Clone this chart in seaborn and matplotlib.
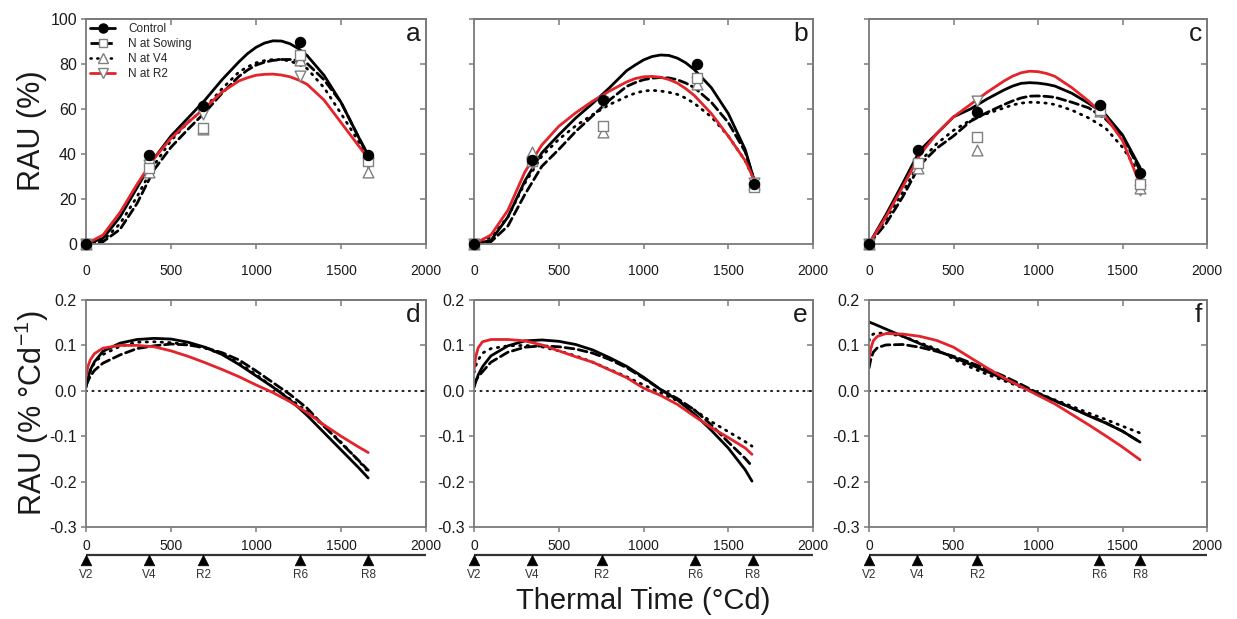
import matplotlib
matplotlib.use("Agg")
import matplotlib.pyplot as plt
from matplotlib.lines import Line2D
import pandas as pd
import seaborn as sns

# ---------------- data ----------------
treatments = ["Control", "N at Sowing", "N at V4", "N at R2"]
stage_labels = ["V2", "V4", "R2", "R6", "R8"]

# top row: fitted RAU (%) curves
a_fit_x = [0, 100, 200, 300, 400, 500, 600, 700, 800, 900, 950, 1000, 1050, 1100, 1150, 1200, 1250, 1300, 1400, 1500, 1600, 1660]
a_fit_control = [0, 2.5, 12, 25, 38, 48, 56, 64, 73, 81, 84.6, 87.4, 89.3, 90.3, 90.2, 89, 86.8, 83.8, 75, 63, 48, 39.5]
a_fit_sowing = [0, 1, 6.5, 18, 33, 43, 51, 58.5, 67, 74.5, 77.3, 79.5, 80.8, 81.6, 82, 82, 81.5, 80.3, 73, 63, 48, 39]
a_fit_v4 = [0, 1.5, 9, 21, 35, 46, 54, 60.5, 69, 76.5, 78.7, 80.5, 81.5, 82, 82, 81.3, 79.9, 78, 69.5, 58, 46, 38]
a_fit_r2 = [0, 4, 14, 26.5, 38, 47, 54, 60.5, 67.5, 72.5, 73.9, 75, 75.4, 75.5, 75.1, 74.3, 72.9, 71, 64, 54, 44, 38]

b_fit_x = [0, 100, 200, 300, 400, 500, 600, 700, 800, 900, 950, 1000, 1050, 1100, 1150, 1200, 1250, 1300, 1400, 1500, 1600, 1650]
b_fit_control = [0, 1.6, 12, 28, 40.5, 48.5, 56, 62.5, 69.5, 77, 79.5, 81.8, 83.3, 84, 83.8, 82.6, 80.5, 77.5, 69.5, 58, 42, 29]
b_fit_sowing = [0, 1, 8, 22, 34.5, 42, 50, 57, 64, 70, 71.7, 73, 73.7, 74, 73.8, 73, 71.5, 69.5, 63, 54, 41, 29]
b_fit_v4 = [0, 3, 12, 27, 39, 46.5, 52.5, 57.5, 62, 65.5, 67, 68, 68.3, 68, 67.4, 66.5, 64.8, 62.5, 56.5, 48, 37, 29]
b_fit_r2 = [0, 4, 15, 32, 44, 52.3, 58.3, 63.5, 68, 72, 73.5, 74.3, 74.5, 74.1, 73.1, 71.5, 69, 66, 58, 48, 37, 29]

c_fit_x = [0, 100, 200, 300, 400, 500, 600, 700, 800, 850, 900, 950, 1000, 1050, 1100, 1200, 1300, 1400, 1500, 1604]
c_fit_control = [0, 13, 27, 41.5, 49, 56.5, 60, 64.5, 68.5, 70.2, 71.4, 71.7, 71.5, 71, 70.2, 67, 62.5, 57.5, 48.5, 34]
c_fit_sowing = [0, 9, 21, 35, 42.5, 48, 54.5, 58.5, 62, 63.6, 64.9, 65.7, 65.8, 65.6, 65.2, 63, 60.5, 55.5, 48, 32.6]
c_fit_v4 = [0, 11, 23, 36.5, 44.5, 50.5, 55, 58, 60.5, 61.8, 62.6, 63, 62.9, 62.6, 62, 59.5, 56, 51.5, 43, 31]
c_fit_r2 = [0, 12, 25.5, 39.5, 49, 56.5, 62, 67.5, 72.5, 74.6, 76.1, 76.8, 76.6, 75.8, 74.5, 69.5, 63.5, 56.5, 46, 26.5]

# top row: observed RAU (%)
a_pt_x = [0, 372, 690, 1260, 1660]
a_pt_control = [0, 39.5, 61.5, 90, 39.5]
a_pt_sowing = [0, 34, 51.5, 84, 37]
a_pt_v4 = [0, 32, 51, 82, 32]
a_pt_r2 = [0, 35, 58, 74.5, 36]

b_pt_x = [0, 342, 761, 1318, 1650]
b_pt_control = [0, 37.5, 64, 80, 26.5]
b_pt_sowing = [0, 37, 52.5, 74, 25.5]
b_pt_v4 = [0, 41, 50, 71, 26.5]
b_pt_r2 = [0, 36, 63, 72, 27]

c_pt_x = [0, 288, 639, 1369, 1604]
c_pt_control = [0, 42, 58.6, 61.6, 31.5]
c_pt_sowing = [0, 36, 47.5, 59.5, 26.5]
c_pt_v4 = [0, 34, 42, 59, 25]
c_pt_r2 = [0, 35, 63.5, 60, 24]

# bottom row: rate of RAU (% °Cd-1)
d_x = [0, 10, 25, 50, 100, 200, 300, 400, 500, 600, 700, 800, 900, 1000, 1100, 1200, 1300, 1400, 1500, 1600, 1660]
d_control = [0.007, 0.025, 0.046, 0.064, 0.087, 0.105, 0.113, 0.1155, 0.114, 0.107, 0.096, 0.08, 0.058, 0.033, 0.008, -0.02, -0.054, -0.092, -0.13, -0.168, -0.192]
d_sowing = [0.012, 0.02, 0.032, 0.045, 0.061, 0.079, 0.093, 0.099, 0.103, 0.101, 0.095, 0.084, 0.068, 0.044, 0.018, -0.008, -0.038, -0.078, -0.115, -0.152, -0.175]
d_v4 = [0.01, 0.027, 0.043, 0.062, 0.08, 0.098, 0.107, 0.108, 0.106, 0.102, 0.094, 0.081, 0.061, 0.036, 0.008, -0.018, -0.045, -0.078, -0.113, -0.153, -0.178]
d_r2 = [0.03, 0.052, 0.068, 0.082, 0.094, 0.1, 0.1, 0.097, 0.088, 0.076, 0.062, 0.047, 0.031, 0.013, -0.004, -0.024, -0.048, -0.075, -0.1, -0.123, -0.136]

e_x = [0, 10, 25, 50, 100, 200, 300, 400, 500, 600, 700, 800, 900, 1000, 1100, 1200, 1300, 1400, 1500, 1600, 1640]
e_control = [0.007, 0.02, 0.035, 0.053, 0.077, 0.099, 0.11, 0.112, 0.109, 0.102, 0.09, 0.073, 0.054, 0.03, 0.003, -0.02, -0.051, -0.087, -0.126, -0.174, -0.199]
e_sowing = [0.012, 0.022, 0.031, 0.042, 0.063, 0.085, 0.096, 0.099, 0.097, 0.092, 0.083, 0.069, 0.051, 0.028, 0.003, -0.017, -0.042, -0.075, -0.113, -0.149, -0.166]
e_v4 = [0.04, 0.055, 0.068, 0.083, 0.093, 0.099, 0.1, 0.097, 0.088, 0.077, 0.063, 0.047, 0.031, 0.013, -0.004, -0.022, -0.042, -0.068, -0.09, -0.112, -0.122]
e_r2 = [0.045, 0.075, 0.095, 0.108, 0.113, 0.113, 0.11, 0.101, 0.088, 0.075, 0.063, 0.046, 0.029, 0.006, -0.01, -0.03, -0.056, -0.081, -0.103, -0.126, -0.14]

f_x = [0, 10, 25, 50, 100, 200, 300, 400, 500, 600, 700, 800, 900, 1000, 1100, 1200, 1300, 1400, 1500, 1604]
f_control = [0.152, 0.15, 0.148, 0.144, 0.136, 0.12, 0.104, 0.089, 0.074, 0.058, 0.042, 0.026, 0.01, -0.006, -0.022, -0.038, -0.055, -0.071, -0.089, -0.113]
f_sowing = [0.05, 0.068, 0.085, 0.095, 0.101, 0.102, 0.096, 0.087, 0.076, 0.062, 0.048, 0.032, 0.014, -0.005, -0.022, -0.038, -0.054, -0.07, -0.089, -0.113]
f_v4 = [0.11, 0.12, 0.125, 0.127, 0.127, 0.12, 0.106, 0.092, 0.07, 0.052, 0.036, 0.022, 0.008, -0.005, -0.02, -0.034, -0.049, -0.063, -0.078, -0.093]
f_r2 = [0.07, 0.092, 0.11, 0.12, 0.126, 0.125, 0.12, 0.111, 0.096, 0.073, 0.05, 0.028, 0.009, -0.01, -0.029, -0.052, -0.075, -0.099, -0.124, -0.152]

# phenological stages
d_stage_x = [0, 372, 690, 1260, 1660]
e_stage_x = [0, 342, 755, 1305, 1645]
f_stage_x = [0, 286, 641, 1363, 1604]

x_ticks = [0, 500, 1000, 1500, 2000]
top_yticks = [0, 20, 40, 60, 80, 100]
bot_yticks = [-0.3, -0.2, -0.1, 0.0, 0.1, 0.2]

# ---------------- style ----------------
sns.set_theme(style="white")
plt.rcParams["font.family"] = ["Liberation Sans", "DejaVu Sans"]
plt.rcParams["axes.unicode_minus"] = False
plt.rcParams["mathtext.fontset"] = "custom"
plt.rcParams["mathtext.rm"] = "Liberation Sans"
plt.rcParams["mathtext.it"] = "Liberation Sans:italic"

RED = "#e3242b"
SPINE = "#7a7a7a"
EDGE = "#808080"
TXT = "#1a1a1a"

palette = {"Control": "black", "N at Sowing": "black", "N at V4": "black", "N at R2": RED}
dash_map = {"Control": "", "N at Sowing": (3.2, 1.6), "N at V4": (0.5, 2.2), "N at R2": ""}
marker_map = {"Control": "o", "N at Sowing": "s", "N at V4": "^", "N at R2": "v"}
size_map = {"Control": 55, "N at Sowing": 50, "N at V4": 60, "N at R2": 60}

W, H = 1237, 619
fig = plt.figure(figsize=(W / 100, H / 100), dpi=100)


def add_ax(l, r, t, b):
    return fig.add_axes([l / W, 1 - b / H, (r - l) / W, (b - t) / H])


cols = [(86, 426), (474, 813), (869, 1207)]
top_axes = [add_ax(l, r, 19, 244) for l, r in cols]
bot_axes = [add_ax(l, r, 300, 527) for l, r in cols]
stage_axes = [add_ax(l, r, 548, 585) for l, r in cols]


def long_df(x, series):
    rows = []
    for trt, vals in zip(treatments, series):
        for xx, yy in zip(x, vals):
            rows.append({"tt": xx, "val": yy, "trt": trt})
    return pd.DataFrame(rows)


def draw_curves(ax, x, series):
    df = long_df(x, series)
    sns.lineplot(data=df, x="tt", y="val", hue="trt", style="trt",
                 hue_order=treatments, style_order=treatments,
                 palette=palette, dashes=dash_map, estimator=None, sort=False,
                 legend=False, linewidth=2.0, ax=ax)
    for ln in ax.lines:
        ln.set_dash_capstyle("round")
        ln.set_solid_capstyle("round")
        ln.set_solid_joinstyle("round")


def draw_points(ax, x, series):
    for trt, vals in reversed(list(zip(treatments, series))):
        if trt == "Control":
            face, edge, lw = "black", "black", 0.8
        else:
            face, edge, lw = "white", EDGE, 1.0
        sns.scatterplot(x=x, y=vals, marker=marker_map[trt], s=size_map[trt],
                        color=face, edgecolor=edge, linewidth=lw, ax=ax,
                        zorder=6, clip_on=False, legend=False)


def style_ax(ax, yticks, ylim, show_ylabels, xpad, yfmt):
    ax.set_xlim(0, 2000)
    ax.set_ylim(*ylim)
    ax.set_xticks(x_ticks)
    ax.set_xticklabels([str(t) for t in x_ticks])
    ax.set_yticks(yticks)
    if show_ylabels:
        ax.set_yticklabels([yfmt(t) for t in yticks])
    else:
        ax.set_yticklabels([])
    ax.set_xlabel("")
    ax.set_ylabel("")
    for sp in ax.spines.values():
        sp.set_visible(True)
        sp.set_color(SPINE)
        sp.set_linewidth(1.3)
    ax.tick_params(axis="x", direction="out", length=3.5, width=1.1, color=SPINE,
                   labelsize=10, labelcolor=TXT, pad=xpad, bottom=True)
    ax.tick_params(axis="y", direction="out", length=3.5, width=1.1, color=SPINE,
                   labelsize=11.5, labelcolor=TXT, pad=3, left=True)
    sx = ax.secondary_xaxis("top")
    sx.set_xticks(x_ticks[1:-1])
    sx.tick_params(direction="in", length=4, width=1.1, color=SPINE, labeltop=False)
    sx.spines["top"].set_color(SPINE)
    sx.spines["top"].set_linewidth(1.3)
    sy = ax.secondary_yaxis("right")
    sy.set_yticks(yticks[1:-1])
    sy.tick_params(direction="in", length=4, width=1.1, color=SPINE, labelright=False)
    sy.spines["right"].set_color(SPINE)
    sy.spines["right"].set_linewidth(1.3)


top_fit = [
    (a_fit_x, [a_fit_control, a_fit_sowing, a_fit_v4, a_fit_r2]),
    (b_fit_x, [b_fit_control, b_fit_sowing, b_fit_v4, b_fit_r2]),
    (c_fit_x, [c_fit_control, c_fit_sowing, c_fit_v4, c_fit_r2]),
]
top_pts = [
    (a_pt_x, [a_pt_control, a_pt_sowing, a_pt_v4, a_pt_r2]),
    (b_pt_x, [b_pt_control, b_pt_sowing, b_pt_v4, b_pt_r2]),
    (c_pt_x, [c_pt_control, c_pt_sowing, c_pt_v4, c_pt_r2]),
]
bot_fit = [
    (d_x, [d_control, d_sowing, d_v4, d_r2]),
    (e_x, [e_control, e_sowing, e_v4, e_r2]),
    (f_x, [f_control, f_sowing, f_v4, f_r2]),
]
stages = [d_stage_x, e_stage_x, f_stage_x]
letters_top = ["a", "b", "c"]
letters_bot = ["d", "e", "f"]

for i, ax in enumerate(top_axes):
    draw_curves(ax, *top_fit[i])
    draw_points(ax, *top_pts[i])
    style_ax(ax, top_yticks, (0, 100), i == 0, 11, lambda t: f"{t:d}")
    ax.text(0.985, 0.985, letters_top[i], transform=ax.transAxes, ha="right", va="top",
            fontsize=19, color=TXT)

for i, ax in enumerate(bot_axes):
    ax.axhline(0, color="#222222", linewidth=1.5, dashes=(0.5, 2.6), dash_capstyle="round", zorder=1)
    draw_curves(ax, *bot_fit[i])
    style_ax(ax, bot_yticks, (-0.3, 0.2), True, 5, lambda t: f"{t:.1f}")
    ax.text(0.985, 0.985, letters_bot[i], transform=ax.transAxes, ha="right", va="top",
            fontsize=19, color=TXT)

for i, sax in enumerate(stage_axes):
    sax.set_xlim(0, 2000)
    sax.set_ylim(0, 1)
    sax.axis("off")
    sax.axhline(0.81, color="#333333", linewidth=1.6)
    sns.scatterplot(x=stages[i], y=[0.665] * len(stages[i]), marker="^", s=58,
                    color="black", edgecolor="black", linewidth=0.5, ax=sax,
                    clip_on=False, legend=False, zorder=3)
    for xx, lbl in zip(stages[i], stage_labels):
        sax.text(xx, 0.26, lbl, ha="center", va="center", fontsize=8.5, color="#333333")

# legend in panel a
handles = [
    Line2D([], [], color="black", lw=2, marker="o", ms=6.5, mfc="black", mec="black"),
    Line2D([], [], color="black", lw=2, dashes=(3.2, 1.6), marker="s", ms=6, mfc="white", mec=EDGE),
    Line2D([], [], color="black", lw=1.8, dashes=(0.5, 2.2), dash_capstyle="round",
           marker="^", ms=6.5, mfc="white", mec=EDGE),
    Line2D([], [], color=RED, lw=2, marker="v", ms=6.5, mfc="white", mec=EDGE),
]
top_axes[0].legend(handles, treatments, loc="upper left", bbox_to_anchor=(0.0, 1.0),
                   frameon=False, fontsize=8.5, handlelength=2.1, handletextpad=1.1,
                   labelspacing=0.25, borderaxespad=0.2, borderpad=0.15)

# axis titles
fig.text(32 / W, 1 - 131 / H, "RAU (%)", rotation=90, ha="center", va="center",
         fontsize=22, color=TXT)
fig.text(32 / W, 1 - 413 / H, "RAU (% °Cd$^{-1}$)", rotation=90, ha="center", va="center",
         fontsize=22, color=TXT)
fig.text(643 / W, 1 - 601 / H, "Thermal Time (°Cd)", ha="center", va="center",
         fontsize=21, color=TXT)

fig.savefig("out.png", dpi=100, facecolor="white")
